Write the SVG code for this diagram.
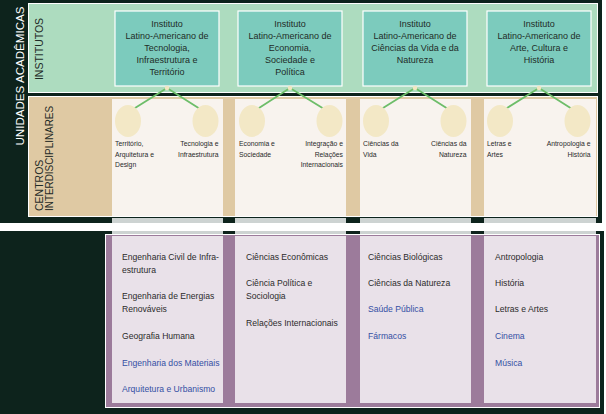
<svg xmlns="http://www.w3.org/2000/svg" width="606" height="414" viewBox="0 0 606 414">
<defs>
<style>
.dark{fill:#0d231c}
.green{fill:#addcbf;stroke:#ffffff;stroke-width:1}
.tan{fill:#dfc9a3;stroke:#ffffff;stroke-width:1}
.cream{fill:#f8f3ee}
.gray{fill:#cdd3d2}
.panel{fill:#9c7b9b;stroke:#ffffff;stroke-width:1}
.lav{fill:#e9e1e9}
.inst{fill:#7ccbbd;stroke:#ffffff;stroke-width:1.2}
.t{font-family:"Liberation Sans",Arial,sans-serif}
.it{font-size:9px;fill:#1f2b27;text-anchor:middle}
.circ{fill:#f3e8c6}
.dot{fill:#f1e6c2}
.cl{font-size:6.8px;fill:#2a2a2a}
.r{text-anchor:end}
.conn line{stroke:#6dbd69;stroke-width:1.8;stroke-linecap:round}
.li{font-size:8.6px;fill:#2b2b2b}
.blue{fill:#3450a4}
.vt{font-size:10.5px;fill:#1f2b27}
</style>
</defs>

<!-- backgrounds -->
<rect class="dark" x="0" y="0" width="602" height="223"/>
<rect class="dark" x="0" y="231" width="604" height="183"/>
<rect class="green" x="28.5" y="3.5" width="569" height="89"/>
<rect class="tan" x="28.5" y="96.5" width="569" height="120"/>
<g id="tan-columns">
<rect class="cream" x="112" y="99" width="111" height="117"/>
<rect class="cream" x="235" y="99" width="111" height="117"/>
<rect class="cream" x="360" y="99" width="111" height="117"/>
<rect class="cream" x="484" y="99" width="112" height="117"/>
<rect class="gray" x="112" y="218" width="111" height="5"/>
<rect class="gray" x="235" y="218" width="111" height="5"/>
<rect class="gray" x="360" y="218" width="111" height="5"/>
<rect class="gray" x="484" y="218" width="112" height="5"/>
<rect class="gray" x="112" y="231" width="111" height="3"/>
<rect class="gray" x="235" y="231" width="111" height="3"/>
<rect class="gray" x="360" y="231" width="111" height="3"/>
<rect class="gray" x="484" y="231" width="112" height="3"/>
</g>

<!-- vertical labels -->
<text class="t" x="-76" y="23.5" transform="rotate(-90)" text-anchor="middle" font-size="11.6" fill="#ffffff">UNIDADES ACADÊMICAS</text>
<text class="t vt" x="0" y="0" transform="translate(43,49) rotate(-90)" text-anchor="middle">INSTITUTOS</text>
<text class="t vt" x="0" y="0" transform="translate(42.5,211) rotate(-90)">CENTROS</text>
<text class="t vt" x="0" y="0" transform="translate(52.5,211) rotate(-90)" textLength="105" lengthAdjust="spacingAndGlyphs">INTERDISCIPLINARES</text>

<!-- institutes -->
<g id="inst-tecnologia">
<rect class="inst" x="115" y="11" width="104" height="75"/>
<text class="t it" x="167" y="26.5">Instituto</text>
<text class="t it" x="167" y="38.7">Latino-Americano de</text>
<text class="t it" x="167" y="50.9">Tecnologia,</text>
<text class="t it" x="167" y="63.1">Infraestrutura e</text>
<text class="t it" x="167" y="75.3">Território</text>
</g>
<g id="inst-economia">
<rect class="inst" x="238" y="11" width="104" height="75"/>
<text class="t it" x="290" y="26.5">Instituto</text>
<text class="t it" x="290" y="38.7">Latino-Americano de</text>
<text class="t it" x="290" y="50.9">Economia,</text>
<text class="t it" x="290" y="63.1">Sociedade e</text>
<text class="t it" x="290" y="75.3">Política</text>
</g>
<g id="inst-ciencias">
<rect class="inst" x="363" y="11" width="104" height="75"/>
<text class="t it" x="415" y="26.5">Instituto</text>
<text class="t it" x="415" y="38.7">Latino-Americano de</text>
<text class="t it" x="415" y="50.9">Ciências da Vida e da</text>
<text class="t it" x="415" y="63.1">Natureza</text>
</g>
<g id="inst-arte">
<rect class="inst" x="487" y="11" width="104" height="75"/>
<text class="t it" x="539" y="26.5">Instituto</text>
<text class="t it" x="539" y="38.7">Latino-Americano de</text>
<text class="t it" x="539" y="50.9">Arte, Cultura e</text>
<text class="t it" x="539" y="63.1">História</text>
</g>

<!-- connectors -->
<g id="connectors" class="conn">
<line x1="167" y1="88" x2="135" y2="108"/>
<line x1="167" y1="88" x2="198.5" y2="108"/>
<line x1="290" y1="88" x2="259" y2="108"/>
<line x1="290" y1="88" x2="322.5" y2="108"/>
<line x1="415" y1="88" x2="383" y2="108"/>
<line x1="415" y1="88" x2="446.5" y2="108"/>
<line x1="539" y1="88" x2="507" y2="108"/>
<line x1="539" y1="88" x2="570.5" y2="108"/>
<circle class="dot" cx="167" cy="88" r="2.3"/>
<circle class="dot" cx="290" cy="88" r="2.3"/>
<circle class="dot" cx="415" cy="88" r="2.3"/>
<circle class="dot" cx="539" cy="88" r="2.3"/>
</g>

<!-- centros -->
<g id="c-territorio">
<ellipse class="circ" cx="128" cy="121" rx="13" ry="16"/>
<text class="t cl" x="115" y="146">Território,</text>
<text class="t cl" x="115" y="156.5">Arquitetura e</text>
<text class="t cl" x="115" y="167">Design</text>
</g>
<g id="c-tecnologia">
<ellipse class="circ" cx="205.5" cy="121" rx="13" ry="16"/>
<text class="t cl r" x="218.5" y="146">Tecnologia e</text>
<text class="t cl r" x="218.5" y="156.5">Infraestrutura</text>
</g>
<g id="c-economia">
<ellipse class="circ" cx="252" cy="121" rx="13" ry="16"/>
<text class="t cl" x="239" y="146">Economia e</text>
<text class="t cl" x="239" y="156.5">Sociedade</text>
</g>
<g id="c-integracao">
<ellipse class="circ" cx="329.5" cy="121" rx="13" ry="16"/>
<text class="t cl r" x="343" y="146">Integração e</text>
<text class="t cl r" x="343" y="156.5">Relações</text>
<text class="t cl r" x="343" y="167">Internacionais</text>
</g>
<g id="c-vida">
<ellipse class="circ" cx="376" cy="121" rx="13" ry="16"/>
<text class="t cl" x="363" y="146">Ciências da</text>
<text class="t cl" x="363" y="156.5">Vida</text>
</g>
<g id="c-natureza">
<ellipse class="circ" cx="453.5" cy="121" rx="13" ry="16"/>
<text class="t cl r" x="466.5" y="146">Ciências da</text>
<text class="t cl r" x="466.5" y="156.5">Natureza</text>
</g>
<g id="c-letras">
<ellipse class="circ" cx="500" cy="121" rx="13" ry="16"/>
<text class="t cl" x="487" y="146">Letras e</text>
<text class="t cl" x="487" y="156.5">Artes</text>
</g>
<g id="c-antropologia">
<ellipse class="circ" cx="577.5" cy="121" rx="13" ry="16"/>
<text class="t cl r" x="590.5" y="146">Antropologia e</text>
<text class="t cl r" x="590.5" y="156.5">História</text>
</g>

<!-- courses -->
<rect class="panel" x="105.5" y="234.5" width="494" height="173"/>
<g id="courses-1">
<rect class="lav" x="112" y="236" width="111" height="167"/>
<text class="t li" x="122" y="260">Engenharia Civil de Infra-</text>
<text class="t li" x="122" y="273">estrutura</text>
<text class="t li" x="122" y="299">Engenharia de Energias</text>
<text class="t li" x="122" y="312">Renováveis</text>
<text class="t li" x="122" y="339">Geografia Humana</text>
<text class="t li blue" x="122" y="366">Engenharia dos Materiais</text>
<text class="t li blue" x="122" y="392">Arquitetura e Urbanismo</text>
</g>
<g id="courses-2">
<rect class="lav" x="235" y="236" width="111" height="167"/>
<text class="t li" x="246" y="260">Ciências Econômicas</text>
<text class="t li" x="246" y="286">Ciência Política e</text>
<text class="t li" x="246" y="299">Sociologia</text>
<text class="t li" x="246" y="326">Relações Internacionais</text>
</g>
<g id="courses-3">
<rect class="lav" x="360" y="236" width="111" height="167"/>
<text class="t li" x="368" y="260">Ciências Biológicas</text>
<text class="t li" x="368" y="286">Ciências da Natureza</text>
<text class="t li blue" x="368" y="312">Saúde Pública</text>
<text class="t li blue" x="368" y="339">Fármacos</text>
</g>
<g id="courses-4">
<rect class="lav" x="484" y="236" width="112" height="167"/>
<text class="t li" x="495" y="260">Antropologia</text>
<text class="t li" x="495" y="286">História</text>
<text class="t li" x="495" y="312">Letras e Artes</text>
<text class="t li blue" x="495" y="339">Cinema</text>
<text class="t li blue" x="495" y="366">Música</text>
</g>
</svg>
